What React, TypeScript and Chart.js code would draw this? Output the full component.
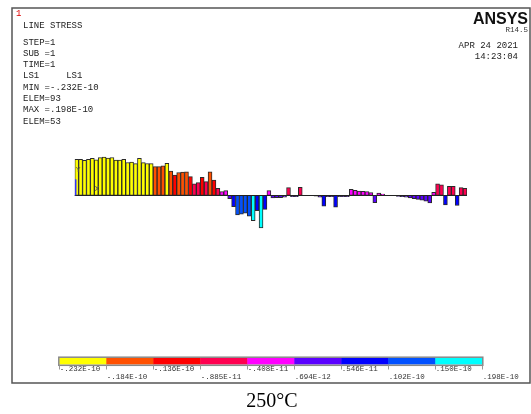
import React, { useEffect, useRef } from "react";
import { Chart, registerables } from "chart.js";

Chart.register(...registerables);

// Element numbers along the line (categories)
const elements: string[] = Array.from({ length: 100 }, (_, i) => String(i + 1));

// Line stress per element (Pa-like units)
const stress: number[] = [
  -2.18e-11, -2.18e-11, -2.12e-11, -2.18e-11, -2.24e-11, -2.15e-11, -2.28e-11, -2.32e-11, -2.26e-11, -2.29e-11,
  -2.14e-11, -2.14e-11, -2.18e-11, -1.99e-11, -2.02e-11, -1.92e-11, -2.24e-11, -1.98e-11, -1.93e-11, -1.92e-11,
  -1.74e-11, -1.74e-11, -1.78e-11, -1.94e-11, -1.47e-11, -1.23e-11, -1.38e-11, -1.40e-11, -1.42e-11, -1.13e-11,
  -0.69e-11, -0.77e-11, -1.09e-11, -0.83e-11, -1.43e-11, -0.93e-11, -0.42e-11, -0.22e-11, -0.28e-11, 0.20e-11,
  0.69e-11, 1.19e-11, 1.15e-11, 1.09e-11, 1.27e-11, 1.53e-11, 0.93e-11, 1.98e-11, 0.85e-11, -0.28e-11,
  0.16e-11, 0.14e-11, 0.14e-11, 0.12e-11, -0.47e-11, 0.09e-11, 0.09e-11, -0.48e-11, 0.01e-11, 0.01e-11,
  0.01e-11, 0.05e-11, 0.12e-11, 0.66e-11, 0.09e-11, 0.09e-11, 0.72e-11, 0.09e-11, 0.09e-11, 0.09e-11,
  -0.36e-11, -0.30e-11, -0.26e-11, -0.24e-11, -0.22e-11, -0.16e-11, 0.44e-11, -0.13e-11, -0.08e-11, 0.01e-11,
  0.0, 0.01e-11, 0.07e-11, 0.09e-11, 0.12e-11, 0.16e-11, 0.20e-11, 0.25e-11, 0.30e-11, 0.36e-11,
  0.46e-11, -0.18e-11, -0.69e-11, -0.64e-11, 0.58e-11, -0.55e-11, -0.55e-11, 0.62e-11, -0.47e-11, -0.42e-11,
];

// Contour legend
const contourEdges: number[] = [
  -2.32e-11, -1.84e-11, -1.36e-11, -0.885e-11, -0.408e-11, 0.0694e-11, 0.546e-11, 1.02e-11, 1.50e-11, 1.98e-11,
];
const contourLabels: string[] = [
  "-.232E-10", "-.184E-10", "-.136E-10", "-.885E-11", "-.408E-11", ".694E-12", ".546E-11", ".102E-10", ".150E-10", ".198E-10",
];
const contourColors: string[] = [
  "#FFFF00", "#FF5000", "#FF0000", "#FF0050", "#FF00FF", "#5A00FF", "#0000FF", "#0050FF", "#00FFFF",
];

const infoLines: string[] = [
  "STEP=1", "SUB =1", "TIME=1", "LS1     LS1", "MIN =-.232E-10", "ELEM=93", "MAX =.198E-10", "ELEM=53",
];
const plotTitle = "LINE STRESS";
const dateLines: string[] = ["APR 24 2021", "14:23:04"];
const caption = "250°C";

function colorFor(v: number): string {
  for (let k = 0; k < contourColors.length; k++) {
    if (v < contourEdges[k + 1]) return contourColors[k];
  }
  return contourColors[contourColors.length - 1];
}

const MONO = "'Liberation Mono', 'DejaVu Sans Mono', monospace";

const decorPlugin = {
  id: "ansysDecor",
  beforeDraw(chart: any) {
    const { ctx, width, height } = chart;
    ctx.save();
    ctx.fillStyle = "#ffffff";
    ctx.fillRect(0, 0, width, height);
    ctx.restore();
  },
  afterDatasetsDraw(chart: any) {
    const { ctx } = chart;
    const xs = chart.scales.x;
    const ys = chart.scales.y;
    const meta = chart.getDatasetMeta(0);
    // baseline across the elements
    const first = meta.data[0];
    const last = meta.data[meta.data.length - 1];
    const y0 = ys.getPixelForValue(0);
    ctx.save();
    ctx.strokeStyle = "#222";
    ctx.lineWidth = 1;
    ctx.beginPath();
    ctx.moveTo(first.x - first.width / 2, Math.round(y0) + 0.5);
    ctx.lineTo(last.x + last.width / 2, Math.round(y0) + 0.5);
    ctx.stroke();

    // triad marks near origin
    const ox = xs.left;
    ctx.strokeStyle = "#3030ff";
    ctx.lineWidth = 1.5;
    ctx.beginPath();
    ctx.moveTo(ox + 1, y0);
    ctx.lineTo(ox + 1, y0 - 16);
    ctx.stroke();
    ctx.fillStyle = "#555";
    ctx.font = `8px ${MONO}`;
    ctx.textBaseline = "middle";
    ctx.textAlign = "left";
    ctx.fillText("Y", ox + 1, y0 - 25);
    ctx.fillText("X", ox + 20, y0 - 6);
    ctx.restore();
  },
  afterDraw(chart: any) {
    const { ctx } = chart;
    ctx.save();
    // frame
    ctx.strokeStyle = "#555";
    ctx.lineWidth = 1.5;
    ctx.strokeRect(12, 8, 518, 375);

    // window number
    ctx.fillStyle = "#e00000";
    ctx.font = `9px ${MONO}`;
    ctx.textBaseline = "middle";
    ctx.textAlign = "left";
    ctx.fillText("1", 16, 14);

    // info text
    ctx.fillStyle = "#222";
    ctx.fillText(plotTitle, 23, 25.5);
    infoLines.forEach((t, i) => ctx.fillText(t, 23, 42.2 + 11.3 * i));

    // ANSYS brand
    ctx.textAlign = "right";
    ctx.textBaseline = "alphabetic";
    ctx.font = "bold 16px 'Liberation Sans', Arial, sans-serif";
    ctx.fillStyle = "#111";
    ctx.fillText("ANSYS", 528, 23.5);
    ctx.textBaseline = "middle";
    ctx.font = `7.5px ${MONO}`;
    ctx.fillStyle = "#333";
    ctx.fillText("R14.5", 528, 30.5);
    ctx.font = `9px ${MONO}`;
    ctx.fillStyle = "#222";
    ctx.fillText(dateLines[0], 518, 45.5);
    ctx.fillText(dateLines[1], 518, 57);

    // contour legend bar
    const lx0 = 59.3;
    const lx1 = 482.3;
    const n = contourColors.length;
    const seg = (lx1 - lx0) / n;
    const ly0 = 358;
    const ly1 = 364.5;
    contourColors.forEach((c, k) => {
      ctx.fillStyle = c;
      ctx.fillRect(lx0 + seg * k, ly0, seg + 0.5, ly1 - ly0);
    });
    ctx.strokeStyle = "#888";
    ctx.lineWidth = 1.5;
    ctx.strokeRect(lx0 - 0.5, ly0 - 0.8, lx1 - lx0 + 1, ly1 - ly0 + 1.6);
    ctx.lineWidth = 1;
    ctx.strokeStyle = "#999";
    for (let k = 0; k <= n; k++) {
      const x = Math.round(lx0 + seg * k) + 0.5;
      ctx.beginPath();
      ctx.moveTo(x, ly1 + 1);
      ctx.lineTo(x, ly1 + 5);
      ctx.stroke();
    }
    ctx.font = `7.5px ${MONO}`;
    ctx.fillStyle = "#333";
    ctx.textAlign = "left";
    contourLabels.forEach((t, k) => {
      const x = lx0 + seg * k + 0.5;
      const y = k % 2 === 0 ? 369.5 : 377;
      ctx.fillText(t, x, y);
    });

    // caption
    ctx.fillStyle = "#000";
    ctx.font = "20px 'Liberation Serif', 'Times New Roman', serif";
    ctx.textAlign = "center";
    ctx.textBaseline = "alphabetic";
    ctx.fillText(caption, 272, 407);
    ctx.restore();
  },
};

export default function App() {
  const canvasRef = useRef<HTMLCanvasElement | null>(null);

  useEffect(() => {
    const canvas = canvasRef.current;
    if (!canvas) return;
    const chart = new Chart(canvas, {
      type: "bar",
      data: {
        labels: elements,
        datasets: [
          {
            label: "LINE STRESS",
            data: stress,
            backgroundColor: stress.map(colorFor),
            borderColor: "#2a2a2a",
            borderWidth: 1,
            borderSkipped: false,
            barPercentage: 1,
            categoryPercentage: 1,
          },
        ],
      },
      options: {
        responsive: false,
        animation: false,
        devicePixelRatio: 1,
        layout: {
          padding: { left: 74.7, right: 64, top: 129.3, bottom: 152.7 },
        },
        plugins: {
          legend: { display: false },
          tooltip: { enabled: false },
          title: { display: false },
        },
        scales: {
          x: { display: false, offset: true },
          y: { display: false, reverse: true, min: -4e-11, max: 4e-11 },
        },
      },
      plugins: [decorPlugin],
    });
    return () => chart.destroy();
  }, []);

  return (
    <div style={{ position: "fixed", left: 0, top: 0, width: 531, height: 414, background: "#fff" }}>
      <canvas ref={canvasRef} width={531} height={414} style={{ width: 531, height: 414, display: "block" }} />
    </div>
  );
}
